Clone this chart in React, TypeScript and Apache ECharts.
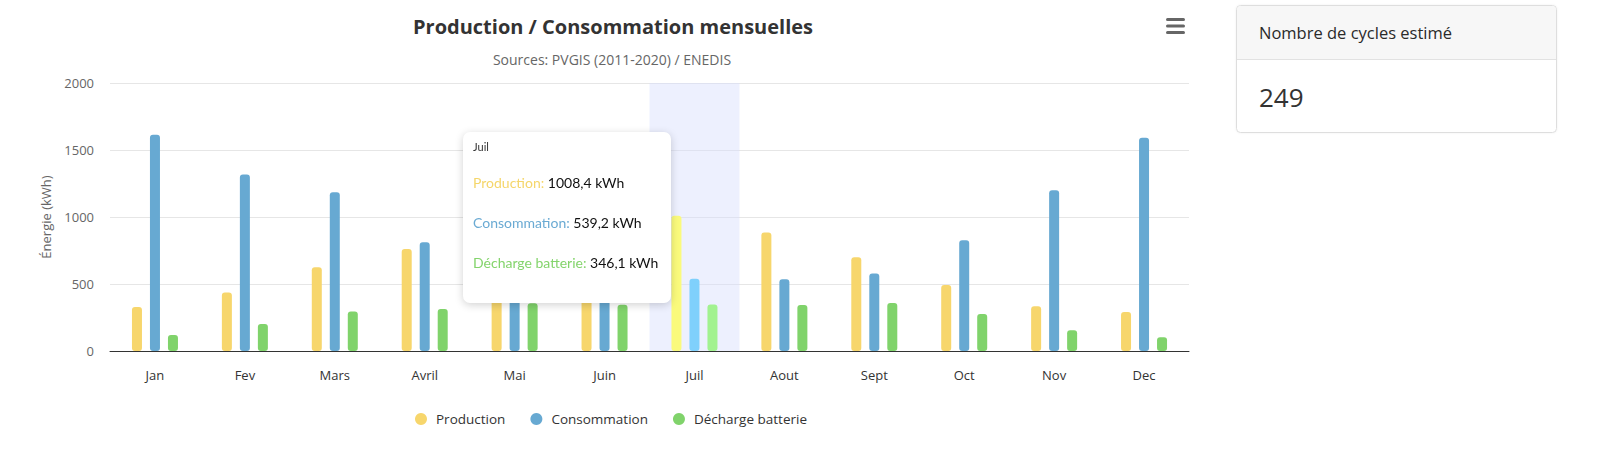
import React, { useEffect, useRef } from "react";
import * as echarts from "echarts";

const categories = ["Jan", "Fev", "Mars", "Avril", "Mai", "Juin", "Juil", "Aout", "Sept", "Oct", "Nov", "Dec"];
const production = [328, 436, 625, 762, 905, 965, 1008.4, 884, 700, 493, 334, 291];
const consommation = [1614, 1317, 1185, 812, 640, 560, 539.2, 535, 578, 827, 1200, 1591];
const decharge = [119, 202, 294, 314, 357, 345, 346.1, 344, 359, 276, 154, 102];
const seriesNames = ["Production", "Consommation", "Décharge batterie"];
const yTicks = { min: 0, max: 2000, interval: 500 };
const highlightedIndex = 6;
const cyclesLabel = "Nombre de cycles estimé";
const cyclesValue = 249;

const colors = ["#f7d66c", "#67a9d2", "#80d36b"];
const hoverColors = ["#fafa7c", "#7fd0fc", "#a2f290"];
const FONT = "'Open Sans', 'DejaVu Sans', sans-serif";

const fmt = (v: number) => v.toFixed(1).replace(".", ",") + " kWh";

export default function App() {
  const ref = useRef<HTMLDivElement>(null);
  useEffect(() => {
    if (!ref.current) return;
    const chart = echarts.init(ref.current, undefined, { renderer: "svg" });
    const dataSets = [production, consommation, decharge];
    chart.setOption({
      animation: false,
      textStyle: { fontFamily: FONT },
      title: [
        {
          text: "Production / Consommation mensuelles",
          left: 608,
          top: 11,
          textAlign: "center",
          textStyle: { fontSize: 20, fontWeight: "bold", color: "#333", fontFamily: FONT },
        },
        {
          text: "Sources: PVGIS (2011-2020) / ENEDIS",
          left: 607,
          top: 47,
          textAlign: "center",
          textStyle: { fontSize: 14, fontWeight: "normal", color: "#666", fontFamily: FONT },
        },
      ],
      legend: {
        left: 410,
        top: 407,
        icon: "circle",
        itemWidth: 12,
        itemHeight: 12,
        itemGap: 25,
        data: seriesNames,
        textStyle: { fontSize: 13.5, color: "#333", fontFamily: FONT, padding: [0, 0, 0, 4] },
      },
      grid: { left: 110, right: 411, top: 83, bottom: 117 },
      tooltip: {
        trigger: "axis",
        triggerOn: "none",
        alwaysShowContent: true,
        transitionDuration: 0,
        position: [463, 132],
        padding: 0,
        borderWidth: 0,
        backgroundColor: "#ffffff",
        extraCssText:
          "box-shadow: 0 2px 9px rgba(0,0,0,0.18); border-radius: 7px; width: 208px; height: 171px;",
        axisPointer: {
          type: "shadow",
          z: 0,
          shadowStyle: { color: "rgba(215,222,252,0.45)" },
        },
        formatter: (params: any) => {
          const p = Array.isArray(params) ? params : [params];
          const idx = p[0].dataIndex;
          const tops = [43, 83, 123];
          const lines = dataSets
            .map(
              (arr, i) =>
                `<div style="position:absolute;left:10px;top:${tops[i]}px;font-size:14px;line-height:16px;">` +
                `<span style="color:${i === 0 ? "#f5d66a" : i === 1 ? "#6aaad3" : "#84d46c"}">${seriesNames[i]}:</span> ` +
                `<span style="color:#111;">${fmt(arr[idx])}</span></div>`
            )
            .join("");
          return (
            `<div style="position:relative;width:208px;height:171px;font-family:Lato, 'Open Sans', sans-serif;">` +
            `<div style="position:absolute;left:10px;top:8px;font-size:11px;line-height:14px;color:#333;">${categories[idx]}</div>` +
            lines +
            `</div>`
          );
        },
      },
      xAxis: {
        type: "category",
        data: categories,
        axisLine: { lineStyle: { color: "#333", width: 1 } },
        axisTick: { show: false },
        axisLabel: { fontSize: 13, color: "#333", margin: 17, fontFamily: FONT },
        splitLine: { show: false },
      },
      yAxis: {
        type: "value",
        min: yTicks.min,
        max: yTicks.max,
        interval: yTicks.interval,
        name: "Énergie (kWh)",
        nameLocation: "middle",
        nameGap: 58,
        nameRotate: 90,
        nameTextStyle: { fontSize: 13, color: "#666", fontFamily: FONT },
        axisLine: { show: false },
        axisTick: { show: false },
        axisLabel: {
          fontSize: 13,
          color: "#666",
          margin: 16,
          fontFamily: FONT,
          formatter: (v: number) => String(v),
        },
        splitLine: { lineStyle: { color: "#e6e6e6", width: 1 } },
      },
      series: dataSets.map((arr, i) => ({
        name: seriesNames[i],
        type: "bar",
        data: arr,
        barWidth: 10,
        barGap: "80%",
        itemStyle: { color: colors[i], borderRadius: 3 },
        emphasis: { focus: "none", itemStyle: { color: hoverColors[i] } },
      })),
      graphic: [
        {
          type: "group",
          children: [
            { type: "rect", shape: { x: 1166, y: 18, width: 19, height: 3, r: 1.5 }, style: { fill: "#666" } },
            { type: "rect", shape: { x: 1166, y: 24.5, width: 19, height: 3, r: 1.5 }, style: { fill: "#666" } },
            { type: "rect", shape: { x: 1166, y: 31, width: 19, height: 3, r: 1.5 }, style: { fill: "#666" } },
          ],
        },
        {
          type: "group",
          children: [
            {
              type: "rect",
              shape: { x: 1236.5, y: 5.5, width: 320, height: 127, r: 4 },
              style: { fill: "#fff", stroke: "#dedede", lineWidth: 1, shadowBlur: 2, shadowColor: "rgba(0,0,0,0.06)" },
            },
            {
              type: "rect",
              shape: { x: 1237, y: 6, width: 319, height: 53, r: [4, 4, 0, 0] },
              style: { fill: "#f7f7f7" },
            },
            {
              type: "line",
              shape: { x1: 1237, y1: 59.5, x2: 1556, y2: 59.5 },
              style: { stroke: "#e2e2e2", lineWidth: 1 },
            },
            {
              type: "text",
              x: 1259,
              y: 32,
              style: {
                text: cyclesLabel,
                fontSize: 16.5,
                fontFamily: "'Open Sans', sans-serif",
                fill: "#2a2a2a",
                verticalAlign: "middle",
              },
            },
            {
              type: "text",
              x: 1259,
              y: 97,
              style: {
                text: String(cyclesValue),
                fontSize: 26,
                fontFamily: "'Open Sans', sans-serif",
                fill: "#333",
                verticalAlign: "middle",
              },
            },
          ],
        },
      ],
    });
    chart.dispatchAction({ type: "showTip", seriesIndex: 0, dataIndex: highlightedIndex });
    chart.dispatchAction({ type: "highlight", seriesIndex: [0, 1, 2], dataIndex: highlightedIndex });
    return () => chart.dispose();
  }, []);
  return (
    <div
      ref={ref}
      style={{ position: "absolute", left: 0, top: 0, width: 1600, height: 468, background: "#fff" }}
    />
  );
}
